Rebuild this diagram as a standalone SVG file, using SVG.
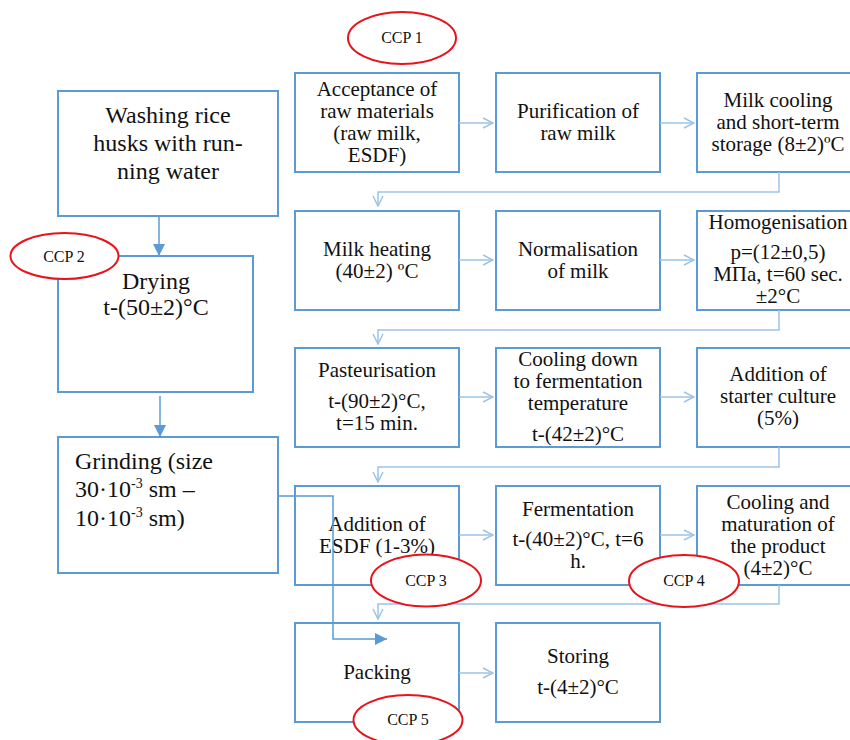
<svg xmlns="http://www.w3.org/2000/svg" width="850" height="740" viewBox="0 0 850 740">
<defs>
<style>
.box{fill:#fff;stroke:#5B9BD5;stroke-width:2}
.t{font-family:"Liberation Serif","Times New Roman",serif;font-size:21px;fill:#111;text-anchor:middle}
.tl{font-family:"Liberation Serif","Times New Roman",serif;font-size:24px;fill:#111;text-anchor:middle}
.tg{font-family:"Liberation Serif","Times New Roman",serif;font-size:24px;fill:#111}
.flow{fill:none;stroke:#9DC3E6;stroke-width:1.5}
.dark{fill:none;stroke:#5B9BD5;stroke-width:1.5}
.ccp{fill:#fff;stroke:#E8141B;stroke-width:2}
.ct{font-family:"Liberation Serif","Times New Roman",serif;font-size:16px;fill:#111;text-anchor:middle}
</style>
<marker id="open" viewBox="0 0 12 12" refX="11" refY="6" markerWidth="12" markerHeight="12" markerUnits="userSpaceOnUse" orient="auto">
<path d="M1,1 L11,6 L1,11" fill="none" stroke="#9DC3E6" stroke-width="1.5"/>
</marker>
<marker id="fill" viewBox="0 0 12 12" refX="12" refY="6" markerWidth="12" markerHeight="12" markerUnits="userSpaceOnUse" orient="auto">
<path d="M0,0 L12,6 L0,12 Z" fill="#5B9BD5"/>
</marker>
</defs>
<rect width="850" height="740" fill="#fff"/>

<g id="washing"><rect class="box" x="58" y="91" width="220" height="125"/>
<text class="tl" x="168" y="123">Washing rice</text>
<text class="tl" x="168" y="151">husks with run-</text>
<text class="tl" x="168" y="179">ning water</text></g>

<g id="drying"><rect class="box" x="58" y="256" width="195" height="136"/>
<text class="tl" x="156" y="289">Drying</text>
<text class="tl" x="156" y="315">t-(50±2)°C</text></g>

<g id="grinding"><rect class="box" x="58" y="437" width="220" height="136"/>
<text class="tg" x="75" y="469">Grinding (size</text>
<text class="tg" x="75" y="497">30·10<tspan font-size="14" dy="-9">-3</tspan><tspan dy="9"> sm –</tspan></text>
<text class="tg" x="75" y="526">10·10<tspan font-size="14" dy="-9">-3</tspan><tspan dy="9"> sm)</tspan></text></g>

<g id="acceptance"><rect class="box" x="295" y="73" width="164" height="99"/>
<text class="t" x="377" y="96">Acceptance of</text>
<text class="t" x="377" y="118">raw materials</text>
<text class="t" x="377" y="140">(raw milk,</text>
<text class="t" x="377" y="162">ESDF)</text></g>

<g id="purification"><rect class="box" x="496" y="73" width="164" height="99"/>
<text class="t" x="578" y="118">Purification of</text>
<text class="t" x="578" y="140">raw milk</text></g>

<g id="milk-cooling"><rect class="box" x="697" y="73" width="164" height="99"/>
<text class="t" x="778" y="107">Milk cooling</text>
<text class="t" x="778" y="129">and short-term</text>
<text class="t" x="778" y="151">storage (8±2)ºC</text></g>

<g id="heating"><rect class="box" x="295" y="211" width="164" height="99"/>
<text class="t" x="377" y="256">Milk heating</text>
<text class="t" x="377" y="278">(40±2) ºC</text></g>

<g id="normalisation"><rect class="box" x="496" y="211" width="164" height="99"/>
<text class="t" x="578" y="256">Normalisation</text>
<text class="t" x="578" y="278">of milk</text></g>

<g id="homogenisation"><rect class="box" x="697" y="211" width="164" height="99"/>
<text class="t" x="778" y="229">Homogenisation</text>
<text class="t" x="778" y="259">p=(12±0,5)</text>
<text class="t" x="778" y="281">МПа, t=60 sec.</text>
<text class="t" x="778" y="303">±2°C</text></g>

<g id="pasteurisation"><rect class="box" x="295" y="348" width="164" height="99"/>
<text class="t" x="377" y="377">Pasteurisation</text>
<text class="t" x="377" y="408">t-(90±2)°C,</text>
<text class="t" x="377" y="430">t=15 min.</text></g>

<g id="cooling-down"><rect class="box" x="496" y="348" width="164" height="99"/>
<text class="t" x="578" y="366">Cooling down</text>
<text class="t" x="578" y="388">to fermentation</text>
<text class="t" x="578" y="410">temperature</text>
<text class="t" x="578" y="441">t-(42±2)°C</text></g>

<g id="starter"><rect class="box" x="697" y="348" width="164" height="99"/>
<text class="t" x="778" y="381">Addition of</text>
<text class="t" x="778" y="403">starter culture</text>
<text class="t" x="778" y="425">(5%)</text></g>

<g id="esdf"><rect class="box" x="295" y="486" width="164" height="99"/>
<text class="t" x="377" y="531">Addition of</text>
<text class="t" x="377" y="553">ESDF (1-3%)</text></g>

<g id="fermentation"><rect class="box" x="496" y="486" width="164" height="99"/>
<text class="t" x="578" y="516">Fermentation</text>
<text class="t" x="578" y="546">t-(40±2)°C, t=6</text>
<text class="t" x="578" y="568">h.</text></g>

<g id="maturation"><rect class="box" x="697" y="486" width="164" height="99"/>
<text class="t" x="778" y="509">Cooling and</text>
<text class="t" x="778" y="531">maturation of</text>
<text class="t" x="778" y="553">the product</text>
<text class="t" x="778" y="575">(4±2)°C</text></g>

<g id="packing"><rect class="box" x="295" y="623" width="164" height="99"/>
<text class="t" x="377" y="679">Packing</text></g>

<g id="storing"><rect class="box" x="496" y="623" width="164" height="99"/>
<text class="t" x="578" y="663">Storing</text>
<text class="t" x="578" y="694">t-(4±2)°C</text></g>

<g id="connectors">
<path class="flow" marker-end="url(#open)" d="M459,123 H493"/>
<path class="flow" marker-end="url(#open)" d="M660,123 H694"/>
<path class="flow" marker-end="url(#open)" d="M779,172 V192 H378 V206"/>
<path class="flow" marker-end="url(#open)" d="M459,260 H493"/>
<path class="flow" marker-end="url(#open)" d="M660,260 H694"/>
<path class="flow" marker-end="url(#open)" d="M779,310 V330 H378 V344"/>
<path class="flow" marker-end="url(#open)" d="M459,397 H493"/>
<path class="flow" marker-end="url(#open)" d="M660,397 H694"/>
<path class="flow" marker-end="url(#open)" d="M779,447 V467 H378 V482"/>
<path class="flow" marker-end="url(#open)" d="M459,535 H493"/>
<path class="flow" marker-end="url(#open)" d="M660,535 H694"/>
<path class="flow" marker-end="url(#open)" d="M779,585 V604 H378 V619"/>
<path class="flow" marker-end="url(#open)" d="M459,673 H493"/>
<path class="dark" marker-end="url(#fill)" d="M159,216 V256"/>
<path class="dark" marker-end="url(#fill)" d="M160,396 V437"/>
<path class="dark" marker-end="url(#fill)" d="M278,496 H333 V639 H387"/>
</g>

<g id="ccp1"><ellipse class="ccp" cx="402" cy="38" rx="54" ry="26"/><text class="ct" x="402" y="43">CCP 1</text></g>
<g id="ccp2"><ellipse class="ccp" cx="64.5" cy="256" rx="54" ry="23"/><text class="ct" x="64" y="262">CCP 2</text></g>
<g id="ccp3"><ellipse class="ccp" cx="426" cy="580.5" rx="55" ry="26"/><text class="ct" x="426" y="586">CCP 3</text></g>
<g id="ccp4"><ellipse class="ccp" cx="684" cy="581" rx="55" ry="26"/><text class="ct" x="684" y="586">CCP 4</text></g>
<g id="ccp5"><ellipse class="ccp" cx="408" cy="720" rx="54.5" ry="25"/><text class="ct" x="408" y="725">CCP 5</text></g>
</svg>
